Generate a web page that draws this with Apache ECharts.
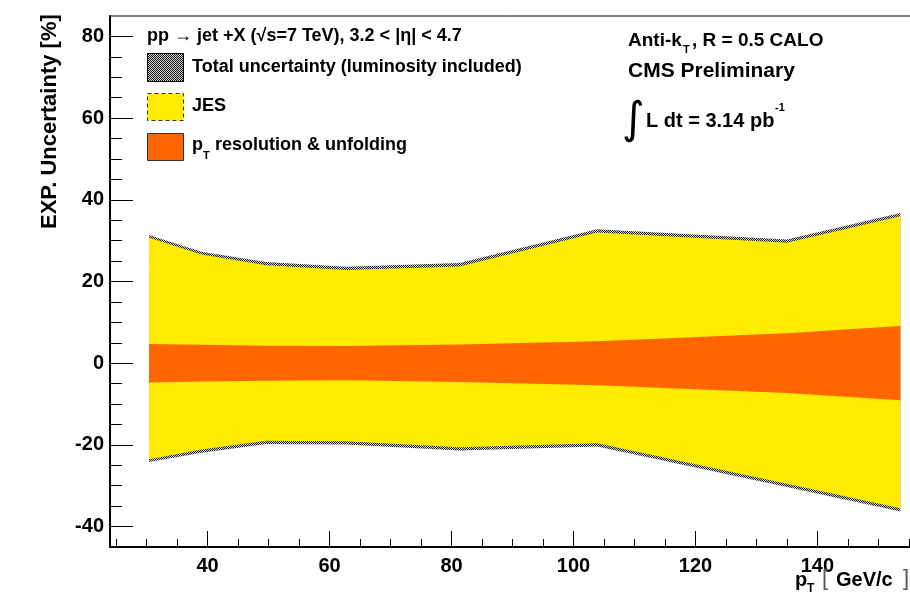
<!DOCTYPE html>
<html>
<head>
<meta charset="utf-8">
<script src="https://cdn.jsdelivr.net/npm/echarts@6/dist/echarts.min.js"></script>
<style>
html,body{margin:0;padding:0;background:#fff;}
#c{width:910px;height:594px;}
</style>
</head>
<body>
<div id="c"></div>
<script>
// ---- data ----
const pt        = [30.4, 39.0, 49.6, 62.7, 81.3, 103.9, 135.0, 153.6];
const totalUp   = [31.4, 27.3, 24.8, 23.6, 24.5, 32.8, 30.3, 36.8];
const totalDown = [-24.2, -21.9, -19.8, -19.9, -21.4, -20.4, -30.3, -36.3];
const jesUp     = [30.7, 26.6, 24.0, 22.8, 23.7, 32.0, 29.5, 36.0];
const jesDown   = [-23.5, -21.1, -19.0, -19.1, -20.6, -19.6, -29.5, -35.5];
const resUp     = [4.7, 4.5, 4.3, 4.2, 4.6, 5.4, 7.3, 9.1];
const resDown   = [-4.7, -4.5, -4.3, -4.2, -4.6, -5.4, -7.3, -9.1];

const xMajorTicks = [40, 60, 80, 100, 120, 140];
const xMinorTicks = [25, 30, 35, 45, 50, 55, 65, 70, 75, 85, 90, 95, 105, 110, 115, 125, 130, 135, 145, 150, 155];
const yMajorTicks = [-40, -20, 0, 20, 40, 60, 80];
const yMinorTicks = [-35, -30, -25, -15, -10, -5, 5, 10, 15, 25, 30, 35, 45, 50, 55, 65, 70, 75];

const FONT = '"Liberation Sans", Arial, Helvetica, sans-serif';

// checkered hatch pattern for total uncertainty
const pc = document.createElement('canvas');
pc.width = 2; pc.height = 2;
const g = pc.getContext('2d');
g.fillStyle = '#d0d0d0'; g.fillRect(0, 0, 2, 2);
g.fillStyle = '#1a1a1a'; g.fillRect(0, 0, 1, 1); g.fillRect(1, 1, 1, 1);
const hatch = { image: pc, repeat: 'repeat' };

function bandSeries(name, up, down, fill, z) {
  return {
    type: 'custom', name: name, xAxisIndex: 0, yAxisIndex: 0, z: z,
    clip: true,
    data: pt.map((x, i) => [x, down[i], up[i]]),
    encode: { x: 0, y: [1, 2] },
    renderItem: function (params, api) {
      if (params.dataIndex !== 0) return null;
      const pts = [];
      for (let i = 0; i < pt.length; i++) pts.push(api.coord([pt[i], up[i]]));
      for (let i = pt.length - 1; i >= 0; i--) pts.push(api.coord([pt[i], down[i]]));
      return { type: 'polygon', shape: { points: pts }, style: { fill: fill, stroke: null } };
    }
  };
}

const chart = echarts.init(document.getElementById('c'), null, { renderer: 'canvas' });

const gridBox = { left: 110, top: 16, width: 805, height: 531, outerBoundsMode: 'none', containLabel: false };
const xRange = { min: 24, max: 156 };
const yRange = { min: -45, max: 85 };

function txt(x, y, text, size, opts) {
  opts = opts || {};
  return {
    type: 'text', x: x, y: y, rotation: opts.rotation || 0, z: 100,
    style: {
      text: text, fill: opts.color || '#000',
      font: (opts.weight || 'bold') + ' ' + size + 'px ' + (opts.family || FONT),
      align: opts.align || 'left', verticalAlign: opts.va || 'middle'
    }
  };
}

const option = {
  animation: false,
  backgroundColor: '#fff',
  grid: [
    Object.assign({ show: true, borderColor: '#000', borderWidth: 1, backgroundColor: 'transparent' }, gridBox),
    Object.assign({ show: false }, gridBox)
  ],
  xAxis: [
    {
      type: 'value', gridIndex: 0, min: xRange.min, max: xRange.max, position: 'bottom',
      splitLine: { show: false },
      axisLine: { show: true, onZero: false, lineStyle: { color: '#000', width: 2 } },
      axisTick: { show: true, inside: true, length: 16, customValues: xMajorTicks, lineStyle: { color: '#000', width: 1 } },
      axisLabel: { show: true, customValues: xMajorTicks, margin: 9, color: '#000', fontSize: 20, fontWeight: 'bold', fontFamily: FONT }
    },
    {
      type: 'value', gridIndex: 1, min: xRange.min, max: xRange.max, position: 'bottom',
      splitLine: { show: false },
      axisLine: { show: false, onZero: false },
      axisTick: { show: true, inside: true, length: 8, customValues: xMinorTicks, lineStyle: { color: '#000', width: 1 } },
      axisLabel: { show: false }
    }
  ],
  yAxis: [
    {
      type: 'value', gridIndex: 0, min: yRange.min, max: yRange.max, position: 'left',
      splitLine: { show: false },
      axisLine: { show: true, onZero: false, lineStyle: { color: '#000', width: 2 } },
      axisTick: { show: true, inside: true, length: 23, customValues: yMajorTicks, lineStyle: { color: '#000', width: 1 } },
      axisLabel: { show: true, customValues: yMajorTicks, margin: 6, color: '#000', fontSize: 20, fontWeight: 'bold', fontFamily: FONT }
    },
    {
      type: 'value', gridIndex: 1, min: yRange.min, max: yRange.max, position: 'left',
      splitLine: { show: false },
      axisLine: { show: false, onZero: false },
      axisTick: { show: true, inside: true, length: 12, customValues: yMinorTicks, lineStyle: { color: '#000', width: 1 } },
      axisLabel: { show: false }
    }
  ],
  series: [
    bandSeries('Total uncertainty (luminosity included)', totalUp, totalDown, hatch, 1),
    bandSeries('JES', jesUp, jesDown, '#ffec00', 2),
    bandSeries('pT resolution & unfolding', resUp, resDown, '#ff6600', 3)
  ],
  graphic: [
    // header
    txt(147, 36, 'pp \u2192 jet +X (\u221As=7 TeV), 3.2 < |\u03B7| < 4.7', 18),
    // legend boxes
    { type: 'rect', z: 100, shape: { x: 147.5, y: 53.5, width: 36, height: 28 }, style: { fill: hatch, stroke: '#000', lineWidth: 1 } },
    { type: 'rect', z: 100, shape: { x: 147.5, y: 93.5, width: 36, height: 27 }, style: { fill: '#ffec00', stroke: '#333', lineWidth: 1, lineDash: [4, 3] } },
    { type: 'rect', z: 100, shape: { x: 147.5, y: 133.5, width: 36, height: 27 }, style: { fill: '#ff6600', stroke: '#333', lineWidth: 1 } },
    txt(192, 67, 'Total uncertainty (luminosity included)', 18),
    txt(192, 106, 'JES', 18),
    txt(192, 145, 'p', 18),
    txt(203, 156, 'T', 11),
    txt(215, 145, 'resolution & unfolding', 18),
    // top right
    txt(628, 41, 'Anti-k', 19),
    txt(683, 50, 'T', 11),
    txt(692, 41, ', R = 0.5 CALO', 19),
    txt(628, 71, 'CMS Preliminary', 21),
    txt(622, 122, '\u222B', 44, { weight: 'normal', family: '"DejaVu Sans", sans-serif' }),
    txt(646, 121, 'L dt = 3.14 pb', 20),
    txt(775, 108, '-1', 11),
    // y axis title
    txt(50, 229, 'EXP. Uncertainty [%]', 22, { rotation: Math.PI / 2 }),
    // x axis title
    txt(795, 580, 'p', 20),
    txt(807, 589, 'T', 12),
    txt(822, 579, '[', 22, { weight: 'normal', color: '#555' }),
    txt(836, 580, 'GeV/c', 20),
    txt(903, 579, ']', 22, { weight: 'normal', color: '#555' })
  ]
};
chart.setOption(option);
</script>
</body>
</html>
